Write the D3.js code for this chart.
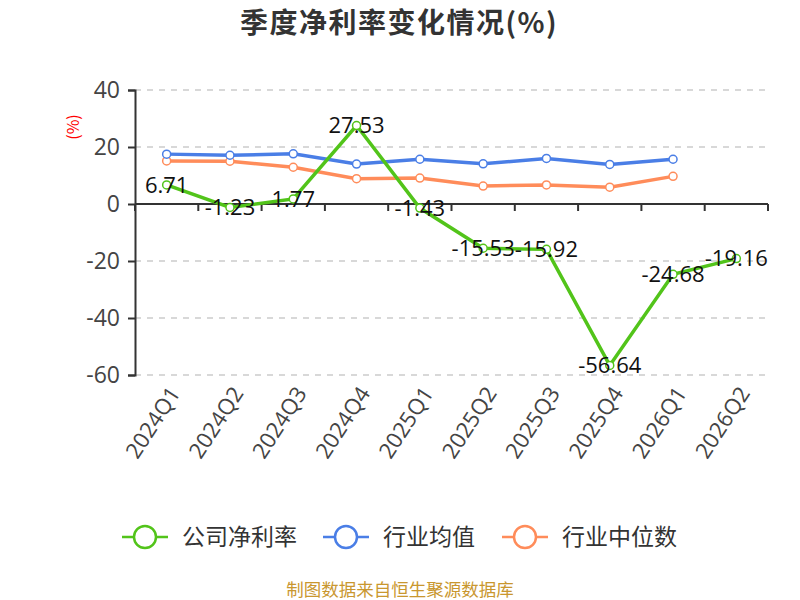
<!DOCTYPE html>
<html>
<head>
<meta charset="utf-8">
<script src="https://cdn.jsdelivr.net/npm/d3@7"></script>
<style>
  body { margin: 0; background: #fff; }
  text { font-family: "Noto Sans CJK SC", "Noto Sans", sans-serif; }
</style>
</head>
<body>
<div id="chart"></div>
<script>
var quarters = ["2024Q1", "2024Q2", "2024Q3", "2024Q4", "2025Q1", "2025Q2", "2025Q3", "2025Q4", "2026Q1", "2026Q2"];
var companyRate = [6.71, -1.23, 1.77, 27.53, -1.43, -15.53, -15.92, -56.64, -24.68, -19.16];
var industryAvg = [17.5, 17.1, 17.6, 14.0, 15.7, 14.1, 16.0, 13.9, 15.7];
var industryMedian = [15.1, 15.0, 12.9, 8.9, 9.1, 6.3, 6.7, 5.9, 9.7];
var yTicks = [40, 20, 0, -20, -40, -60];

var width = 800;
var height = 600;
var plotLeft = 135, plotRight = 768, plotTop = 90, plotBottom = 375;
var numFont = "'Open Sans', 'Noto Sans', sans-serif";

var series = [
	{name: "公司净利率", color: "#52C41A", values: companyRate},
	{name: "行业均值", color: "#4A7EE6", values: industryAvg},
	{name: "行业中位数", color: "#FF8C5A", values: industryMedian}
];

var svg = d3.select("#chart").append("svg")
	.attr("width", width)
	.attr("height", height);

/* Scales */
var xScale = d3.scaleBand()
	.domain(quarters)
	.range([plotLeft, plotRight]);

var yScale = d3.scaleLinear()
	.domain([-60, 40])
	.range([plotBottom, plotTop]);

var cx = (d, i) => xScale(quarters[i]) + xScale.bandwidth() / 2;

/* Title */
svg.append("text")
	.attr("x", 399)
	.attr("y", 33)
	.attr("text-anchor", "middle")
	.style("font-size", "28px")
	.style("letter-spacing", "1.5px")
	.style("font-weight", "bold")
	.style("fill", "#333")
	.text("季度净利率变化情况(%)");

/* Gridlines */
svg.append("g")
	.selectAll("line")
	.data(yTicks.filter(d => d !== 0)).enter()
	.append("line")
	.attr("x1", plotLeft)
	.attr("x2", plotRight)
	.attr("y1", d => yScale(d))
	.attr("y2", d => yScale(d))
	.style("stroke", "#ccc")
	.style("stroke-dasharray", "6,6")
	.style("stroke-width", 1.5);

/* Y axis */
var yAxis = d3.axisLeft(yScale)
	.tickValues(yTicks)
	.tickFormat(d => String(d))
	.tickSize(7)
	.tickPadding(8);
var gy = svg.append("g")
	.attr("transform", `translate(${plotLeft},0)`)
	.call(yAxis);
gy.select(".domain").style("stroke", "#333").style("stroke-width", 2);
gy.selectAll(".tick line").style("stroke", "#333").style("stroke-width", 2);
gy.selectAll(".tick text")
	.style("font-size", "23px")
	.style("fill", "#444")
	.style("font-family", numFont);

svg.append("text")
	.attr("transform", "translate(73,127) rotate(-90)")
	.attr("text-anchor", "middle")
	.attr("dy", "0.35em")
	.style("font-size", "16px")
	.style("fill", "red")
	.text("(%)");

/* X axis at zero, ticks on band boundaries */
var gx = svg.append("g")
	.attr("transform", `translate(0,${yScale(0)})`);
gx.append("line")
	.attr("x1", plotLeft)
	.attr("x2", plotRight)
	.style("stroke", "#333")
	.style("stroke-width", 2);
gx.selectAll("line.bound")
	.data(quarters.concat([null])).enter()
	.append("line")
	.attr("class", "bound")
	.attr("x1", (d, i) => plotLeft + i * xScale.step())
	.attr("x2", (d, i) => plotLeft + i * xScale.step())
	.attr("y1", 0)
	.attr("y2", 7)
	.style("stroke", "#333")
	.style("stroke-width", 2);

/* X labels at bottom */
svg.append("g")
	.selectAll("text")
	.data(quarters).enter()
	.append("text")
	.attr("transform", d => `translate(${xScale(d) + xScale.bandwidth() / 2 + 8},${plotBottom + 14}) rotate(-57)`)
	.attr("text-anchor", "end")
	.attr("dy", "0.35em")
	.style("font-size", "22px")
	.style("fill", "#444")
	.style("font-family", numFont)
	.text(d => d);

/* Lines */
var line = d3.line()
	.x(cx)
	.y(d => yScale(d));

var lines = svg.append("g");

series.slice().reverse().forEach(function(s) {
	lines.append("path")
		.attr("d", line(s.values))
		.style("fill", "none")
		.style("stroke", s.color)
		.style("stroke-width", 3.5);
	lines.selectAll(null)
		.data(s.values).enter()
		.append("circle")
		.attr("cx", cx)
		.attr("cy", d => yScale(d))
		.attr("r", 4)
		.style("fill", "#fff")
		.style("stroke", s.color)
		.style("stroke-width", 1.5);
});

/* Value labels */
svg.append("g")
	.selectAll("text")
	.data(companyRate).enter()
	.append("text")
	.attr("x", cx)
	.attr("y", d => yScale(d))
	.attr("dy", "0.35em")
	.attr("text-anchor", "middle")
	.style("font-size", "22px")
	.style("fill", "#111")
	.style("font-family", numFont)
	.text(d => d.toFixed(2));

/* Legend */
var legendX = [122, 323, 502];
var legend = svg.append("g");
series.forEach(function(s, i) {
	var g = legend.append("g").attr("transform", `translate(${legendX[i]},537)`);
	g.append("line")
		.attr("x1", 0).attr("x2", 46)
		.style("stroke", s.color)
		.style("stroke-width", 2.5);
	g.append("circle")
		.attr("cx", 23).attr("r", 11)
		.style("fill", "#fff")
		.style("stroke", s.color)
		.style("stroke-width", 2.5);
	g.append("text")
		.attr("x", 60)
		.attr("dy", "0.35em")
		.style("font-size", "23px")
		.style("fill", "#333")
		.text(s.name);
});

/* Source */
svg.append("text")
	.attr("x", 400)
	.attr("y", 596)
	.attr("text-anchor", "middle")
	.style("font-size", "17.5px")
	.style("fill", "#C9972F")
	.text("制图数据来自恒生聚源数据库");
</script>
</body>
</html>
